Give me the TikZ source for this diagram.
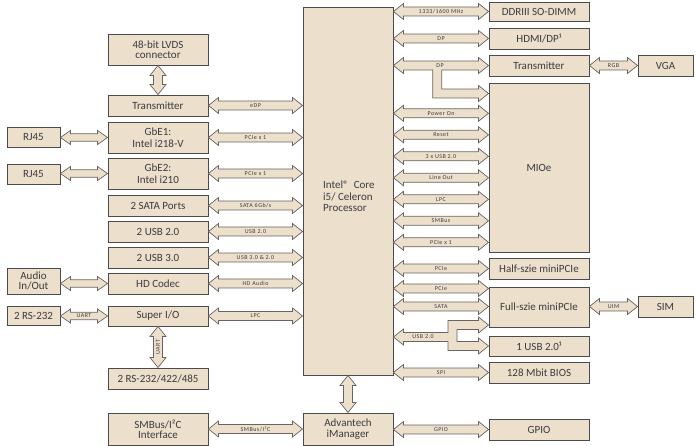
\documentclass[tikz,border=0pt]{standalone}
\usepackage{fontspec}
\setmainfont{Carlito}
\newfontfamily\lblfont[LetterSpace=8]{Carlito}
\usetikzlibrary{calc}
\definecolor{bg}{RGB}{236,223,204}
\definecolor{bord}{RGB}{75,75,75}
\definecolor{aout}{RGB}{105,100,95}
\definecolor{txt}{RGB}{60,60,60}
\tikzset{
  box/.style={draw=bord, line width=0.9pt, fill=bg, text=txt,
    font=\fontsize{11}{11.5}\selectfont, align=center, inner sep=0pt},
  arr/.style={draw=aout, line width=0.7pt, fill=bg, line join=miter},
  lbl/.style={text=txt, font=\lblfont\fontsize{6}{6.5}\selectfont, inner sep=0pt},
}
\def\AH{8pt}\def\AS{4.5pt}\def\AL{10pt}
\newcommand\bx[7][]{\node[box,minimum width={(#5-#3)*1pt},minimum height={(#6-#4)*1pt},#1] (#2) at ({(#3+#5)/2},{(#4+#6)/2}) {#7};}
\newcommand\harr[3]{%
  \draw[arr] let \p1=(#1), \p2=(#2) in (\x1,\y1) -- (\x1+\AL,\y1+\AH) -- (\x1+\AL,\y1+\AS) -- (\x2-\AL,\y1+\AS) -- (\x2-\AL,\y1+\AH) -- (\x2,\y1) -- (\x2-\AL,\y1-\AH) -- (\x2-\AL,\y1-\AS) -- (\x1+\AL,\y1-\AS) -- (\x1+\AL,\y1-\AH) -- cycle;
  \path let \p1=(#1), \p2=(#2) in node[lbl] at ({(\x1+\x2)/2},\y1) {#3};}
\newcommand\varr[4][0]{%
  \draw[arr] let \p1=(#2), \p2=(#3) in (\x1,\y1) -- (\x1+\AH,\y1-\AL) -- (\x1+\AS,\y1-\AL) -- (\x1+\AS,\y2+\AL) -- (\x1+\AH,\y2+\AL) -- (\x1,\y2) -- (\x1-\AH,\y2+\AL) -- (\x1-\AS,\y2+\AL) -- (\x1-\AS,\y1-\AL) -- (\x1-\AH,\y1-\AL) -- cycle;
  \path let \p1=(#2), \p2=(#3) in node[lbl,rotate=#1] at (\x1,{(\y1+\y2)/2}) {#4};}
\begin{document}
\begin{tikzpicture}[x=1pt,y=-1pt]
\useasboundingbox (0,0) rectangle (697,446);
% left column
\bx[font=\fontsize{11}{10}\selectfont]{lvds}{108}{34}{208}{65}{48-bit LVDS\\connector}
\bx{txl}{108}{95}{208}{116}{Transmitter}
\bx[font=\fontsize{11}{12.5}\selectfont]{gbe1}{108}{122}{208}{153}{GbE1:\\Intel i218-V}
\bx[font=\fontsize{11}{12.5}\selectfont]{gbe2}{108}{158}{208}{189}{GbE2:\\Intel i210}
\bx{sata}{108}{195}{208}{216}{2 SATA Ports}
\bx{usb2}{108}{221}{208}{242}{2 USB 2.0}
\bx{usb3}{108}{247}{208}{268}{2 USB 3.0}
\bx{hda}{108}{273}{208}{294}{HD Codec}
\bx{sio}{108}{306}{208}{326}{Super I/O}
\bx{rs485}{108}{368}{208}{389}{2 RS-232/422/485}
\bx[font=\fontsize{11}{10}\selectfont]{smb}{108}{413}{208}{445}{SMBus/I²C\\Interface}
% far left
\bx{rj1}{7}{127}{60}{147}{RJ45}
\bx{rj2}{7}{164}{60}{184}{RJ45}
\bx[font=\fontsize{11}{10.2}\selectfont]{audio}{7}{268}{60}{294}{Audio\\In/Out}
\bx{rs232}{7}{306}{60}{325}{2 RS-232}
% centre
\bx{cpu}{303}{7}{393}{375}{}
\node[text=txt, font=\fontsize{11}{11.3}\selectfont, align=left, anchor=west, inner sep=0pt] (cputxt) at (323,196.5) {Intel®\ \ Core\\i5/ Celeron\\Processor};
\bx[font=\fontsize{11}{10.6}\selectfont]{imgr}{303}{413}{393}{445}{Advantech\\iManager}
% right column
\bx{ddr}{489}{2}{589}{21}{DDRIII SO-DIMM}
\bx{hdmi}{489}{28}{589}{49}{HDMI/DP¹}
\bx{txr}{489}{55}{589}{76}{Transmitter}
\bx{mioe}{489}{83}{589}{252}{MIOe}
\bx{half}{489}{258}{589}{279}{Half-szie miniPCIe}
\bx{full}{489}{287}{589}{327}{Full-szie miniPCIe}
\bx{usb1}{489}{336}{589}{356}{1 USB 2.0¹}
\bx{bios}{489}{362}{589}{383}{128 Mbit BIOS}
\bx{gpio}{489}{419}{589}{440}{GPIO}
\bx{vga}{638}{55}{693}{76}{VGA}
\bx{sim}{638}{296}{693}{317}{SIM}
% left arrows
\harr{txl.east}{txl.east -| cpu.west}{eDP}
\harr{gbe1.east}{gbe1.east -| cpu.west}{PCIe x 1}
\harr{gbe2.east}{gbe2.east -| cpu.west}{PCIe x 1}
\harr{sata.east}{sata.east -| cpu.west}{SATA 6Gb/s}
\harr{usb2.east}{usb2.east -| cpu.west}{USB 2.0}
\harr{usb3.east}{usb3.east -| cpu.west}{USB 3.0 \& 2.0}
\harr{hda.east}{hda.east -| cpu.west}{HD Audio}
\harr{sio.east}{sio.east -| cpu.west}{LPC}
\harr{smb.east}{imgr.west}{SMBus/I²C}
% far-left arrows
\begingroup\def\AH{7pt}\def\AS{3.7pt}
\harr{rj1.east |- gbe1.west}{gbe1.west}{}
\harr{rj2.east |- gbe2.west}{gbe2.west}{}
\harr{audio.east |- hda.west}{hda.west}{}
\harr{rs232.east |- sio.west}{sio.west}{UART}
\endgroup
% vertical arrows
\varr{lvds.south}{txl.north}{}
\varr[90]{sio.south}{rs485.north}{UART}
\varr{cpu.south}{imgr.north}{}
% right arrows
\harr{cpu.east |- ddr.west}{ddr.west}{1333/1600 MHz}
\harr{cpu.east |- hdmi.west}{hdmi.west}{DP}
\draw[arr] let \p1=(cpu.east |- txr.west), \p2=(txr.west), \p3=(mioe.west |- 0,93.5), \p4=(437.2,0) in
  (\p1) -- (\x1+\AL,\y1+\AH) -- (\x1+\AL,\y1+\AS) -- (\x2-\AL,\y2+\AS) -- (\x2-\AL,\y2+\AH) -- (\p2)
  -- (\x2-\AL,\y2-\AH) -- (\x2-\AL,\y2-\AS) -- (\x4+\AS,\y2-\AS) -- (\x4+\AS,\y3+\AS)
  -- (\x3-\AL,\y3+\AS) -- (\x3-\AL,\y3+\AH) -- (\p3) -- (\x3-\AL,\y3-\AH) -- (\x3-\AL,\y3-\AS)
  -- (\x4-\AS,\y3-\AS) -- (\x4-\AS,\y1-\AS) -- (\x1+\AL,\y1-\AS) -- (\x1+\AL,\y1-\AH) -- cycle;
\node[lbl] (dplbl) at (440,65.5) {DP};
\harr{cpu.east |- 0,113.3}{mioe.west |- 0,113.3}{Power On}
\harr{cpu.east |- 0,134.8}{mioe.west |- 0,134.8}{Reset}
\harr{cpu.east |- 0,156.3}{mioe.west |- 0,156.3}{3 x USB 2.0}
\harr{cpu.east |- 0,177.8}{mioe.west |- 0,177.8}{Line Out}
\harr{cpu.east |- 0,199.3}{mioe.west |- 0,199.3}{LPC}
\harr{cpu.east |- 0,220.8}{mioe.west |- 0,220.8}{SMBus}
\harr{cpu.east |- 0,242.3}{mioe.west |- 0,242.3}{PCIe x 1}
\harr{cpu.east |- half.west}{half.west}{PCIe}
\harr{cpu.east |- 0,288.5}{full.west |- 0,288.5}{PCIe}
\harr{cpu.east |- 0,306.5}{full.west |- 0,306.5}{SATA}
\draw[arr] let \p1=(cpu.east |- 0,337), \p2=(full.west |- 0,325), \p3=(usb1.west), \p4=(452.5,0) in
  (\p1) -- (\x1+\AL,\y1+\AH) -- (\x1+\AL,\y1+\AS) -- (\x4-\AS,\y1+\AS) -- (\x4-\AS,\y2+\AS)
  -- (\x2-\AL,\y2+\AS) -- (\x2-\AL,\y2+\AH) -- (\p2) -- (\x2-\AL,\y2-\AH) -- (\x2-\AL,\y2-\AS)
  -- (\x4+\AS,\y2-\AS) -- (\x4+\AS,\y3+\AS) -- (\x3-\AL,\y3+\AS) -- (\x3-\AL,\y3+\AH) -- (\p3)
  -- (\x3-\AL,\y3-\AH) -- (\x3-\AL,\y3-\AS) -- (\x4-\AS,\y3-\AS) -- (\x4-\AS,\y1-\AS)
  -- (\x1+\AL,\y1-\AS) -- (\x1+\AL,\y1-\AH) -- cycle;
\node[lbl] (usblbl) at (423,337) {USB 2.0};
\harr{cpu.east |- bios.west}{bios.west}{SPI}
\harr{imgr.east |- gpio.west}{gpio.west}{GPIO}
% far-right arrows
\harr{txr.east}{vga.west}{RGB}
\harr{full.east |- sim.west}{sim.west}{UIM}
\end{tikzpicture}
\end{document}
